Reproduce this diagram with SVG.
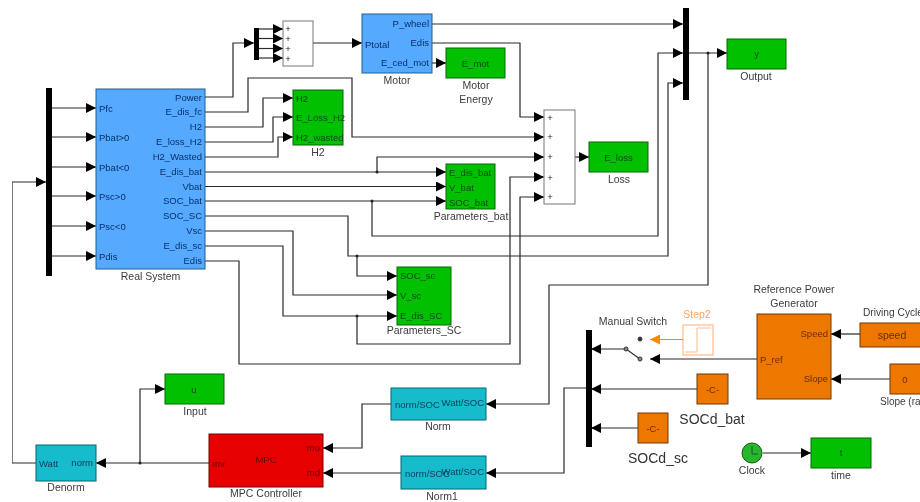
<svg xmlns="http://www.w3.org/2000/svg" width="920" height="502" viewBox="0 0 920 502">
<defs>
<marker id="a" markerUnits="userSpaceOnUse" markerWidth="11" markerHeight="10" refX="10" refY="5" orient="auto"><path d="M0 0L10 5L0 10Z" fill="#000"/></marker>
<marker id="o" markerUnits="userSpaceOnUse" markerWidth="11" markerHeight="10" refX="10" refY="5" orient="auto"><path d="M0 0L10 5L0 10Z" fill="#f80"/></marker>
<filter id="soft" x="0" y="0" width="100%" height="100%"><feGaussianBlur stdDeviation="0.35"/></filter>
</defs>
<style>
text{font-family:"Liberation Sans",Arial,sans-serif;font-size:9.5px;fill:#222}
.b{fill:#55aaff;stroke:#1f5f8f;stroke-width:1}
.g{fill:#00c000;stroke:#0a6a0a;stroke-width:1}
.c{fill:#12bccb;stroke:#0c6670;stroke-width:1}
.r{fill:#e60000;stroke:#7a0000;stroke-width:1}
.o{fill:#ee7700;stroke:#6e3600;stroke-width:1}
.s{fill:#fff;stroke:#777;stroke-width:1}
.bar{fill:#000}
.tb{fill:#08306a}
.tg{fill:#054a10}
.tc{fill:#063e5c}
.tr{fill:#6a0000}
.to{fill:#6a2c00}
.lab{font-size:10.5px;fill:#3c3c3c;text-anchor:middle}
.big{font-size:14px;fill:#333;text-anchor:middle}
.e{text-anchor:end}
.m{text-anchor:middle}
#wires polyline{fill:none;stroke:#2a2a2a;stroke-width:1.2;marker-end:url(#a)}
#wires circle{fill:#222}
</style>
<rect width="920" height="502" fill="#fff"/>
<g filter="url(#soft)">
<g id="wires">
<polyline points="52,108 96,108"/>
<polyline points="52,137 96,137"/>
<polyline points="52,167 96,167"/>
<polyline points="52,196 96,196"/>
<polyline points="52,226 96,226"/>
<polyline points="52,256 96,256"/>
<polyline points="96,463 12,463 12,182 46,182"/>
<polyline points="205,97 233,97 233,43 254,43"/>
<polyline points="259,29 283,29"/>
<polyline points="259,38.5 283,38.5"/>
<polyline points="259,48.5 283,48.5"/>
<polyline points="259,58 283,58"/>
<polyline points="313,43 362,43"/>
<polyline points="432,24 683,24"/>
<polyline points="432,43 520,43 520,117 544,117"/>
<polyline points="432,63 446,63"/>
<polyline points="205,112 248,112 248,78 352,78 352,137 544,137"/>
<polyline points="205,127 263,127 263,98 293,98"/>
<polyline points="205,142 273,142 273,117 293,117"/>
<polyline points="205,157 278,157 278,137 293,137"/>
<polyline points="205,172 446,172"/>
<polyline points="377,172 377,157 544,157"/>
<polyline points="205,186.500 446,186.500"/>
<polyline points="205,201 446,201"/>
<polyline points="372,201 372,236 658,236 658,53 683,53"/>
<polyline points="205,216 348,216 348,256 668,256 668,83 683,83"/>
<polyline points="357,256 357,276 397,276"/>
<polyline points="205,231 293,231 293,295 397,295"/>
<polyline points="205,246 283,246 283,316 397,316"/>
<polyline points="357,316 357,344 510,344 510,177 544,177"/>
<polyline points="205,261 239,261 239,364 520,364 520,197 544,197"/>
<polyline points="575,157 589,157"/>
<polyline points="689,53 727,53"/>
<polyline points="708,53 708,285 549,285 549,404 486,404"/>
<polyline points="391,404 362,404 362,448 323,448"/>
<polyline points="401,473 323,473"/>
<polyline points="209,463 96,463"/>
<polyline points="140,463 140,389 165,389"/>
<polyline points="586,388 564,388 564,473 486,473"/>
<polyline points="626,349 591,349"/>
<polyline points="757,359 650,359"/>
<polyline points="697,389 591,389"/>
<polyline points="638,428 591,428"/>
<polyline points="860,334 831,334"/>
<polyline points="890,379 831,379"/>
<polyline points="763,453 811,453"/>
<circle cx="140" cy="463" r="1.5"/><circle cx="377" cy="172" r="1.5"/><circle cx="372" cy="201" r="1.5"/><circle cx="357" cy="256" r="1.5"/><circle cx="357" cy="316" r="1.5"/><circle cx="708" cy="53" r="1.5"/>
</g>
<g id="demux"><rect class="bar" x="46" y="88" width="6" height="188"/></g>
<g id="real-system"><rect class="b" x="96" y="89" width="109" height="180"/>
<text class="tb" x="99" y="111.500">Pfc</text><text class="tb" x="99" y="141">Pbat&gt;0</text><text class="tb" x="99" y="171">Pbat&lt;0</text><text class="tb" x="99" y="200">Psc&gt;0</text><text class="tb" x="99" y="230">Psc&lt;0</text><text class="tb" x="99" y="260">Pdis</text>
<text class="tb e" x="202" y="100.500">Power</text><text class="tb e" x="202" y="115">E_dis_fc</text><text class="tb e" x="202" y="130">H2</text><text class="tb e" x="202" y="145">E_loss_H2</text><text class="tb e" x="202" y="160">H2_Wasted</text><text class="tb e" x="202" y="175">E_dis_bat</text><text class="tb e" x="202" y="189.500">Vbat</text><text class="tb e" x="202" y="204">SOC_bat</text><text class="tb e" x="202" y="219">SOC_SC</text><text class="tb e" x="202" y="234">Vsc</text><text class="tb e" x="202" y="249">E_dis_sc</text><text class="tb e" x="202" y="264">Edis</text>
<text class="lab" x="150.500" y="280">Real System</text></g>
<g id="mux-power"><rect class="bar" x="254" y="28" width="5" height="32"/></g>
<g id="sum-power"><rect class="s" x="283" y="21" width="30" height="45"/>
<text class="m" x="288" y="32">+</text><text class="m" x="288" y="42">+</text><text class="m" x="288" y="52">+</text><text class="m" x="288" y="62">+</text></g>
<g id="motor"><rect class="b" x="362" y="14" width="70" height="59"/>
<text class="tb" x="365" y="48">Ptotal</text><text class="tb e" x="429" y="27">P_wheel</text><text class="tb e" x="429" y="46">Edis</text><text class="tb e" x="429" y="66">E_ced_mot</text>
<text class="lab" x="397" y="84">Motor</text></g>
<g id="motor-energy"><rect class="g" x="446" y="48" width="59" height="30"/>
<text class="tg m" x="475.500" y="66.500">E_mot</text><text class="lab" x="476" y="89">Motor</text><text class="lab" x="476" y="103">Energy</text></g>
<g id="h2"><rect class="g" x="293" y="90" width="50" height="55"/>
<text class="tg" x="296" y="102">H2</text><text class="tg" x="296" y="121">E_Loss_H2</text><text class="tg" x="296" y="141">H2_wasted</text><text class="lab" x="318" y="156">H2</text></g>
<g id="parameters-bat"><rect class="g" x="446" y="164" width="49" height="45"/>
<text class="tg" x="449" y="176">E_dis_bat</text><text class="tg" x="449" y="191">V_bat</text><text class="tg" x="449" y="206">SOC_bat</text><text class="lab" x="471" y="220">Parameters_bat</text></g>
<g id="parameters-sc"><rect class="g" x="397" y="267" width="54" height="58"/>
<text class="tg" x="400" y="279">SOC_sc</text><text class="tg" x="400" y="299">V_sc</text><text class="tg" x="400" y="319">E_dis_SC</text><text class="lab" x="424" y="334">Parameters_SC</text></g>
<g id="sum-loss"><rect class="s" x="544" y="110" width="31" height="94"/>
<text class="m" x="550" y="121">+</text><text class="m" x="550" y="140">+</text><text class="m" x="550" y="160">+</text><text class="m" x="550" y="181">+</text><text class="m" x="550" y="200">+</text></g>
<g id="loss"><rect class="g" x="589" y="142" width="59" height="30"/>
<text class="tg m" x="618.500" y="160.500">E_loss</text><text class="lab" x="619" y="183">Loss</text></g>
<g id="mux-output"><rect class="bar" x="683" y="8" width="6" height="92"/></g>
<g id="output"><rect class="g" x="727" y="39" width="59" height="30"/>
<text class="tg m" x="756.500" y="57">y</text><text class="lab" x="756" y="80">Output</text></g>
<g id="denorm"><rect class="c" x="36" y="445" width="60" height="36"/>
<text class="tc" x="39" y="467">Watt</text><text class="tc e" x="93" y="466">norm</text><text class="lab" x="66" y="491">Denorm</text></g>
<g id="input"><rect class="g" x="165" y="374" width="59" height="30"/>
<text class="tg m" x="194" y="393">u</text><text class="lab" x="195" y="415">Input</text></g>
<g id="mpc"><rect class="r" x="209" y="434" width="114" height="53"/>
<text class="tr m" x="266" y="463">MPC</text><text class="tr" x="212" y="467">mv</text><text class="tr e" x="320" y="451">mo</text><text class="tr e" x="320" y="476">md</text><text class="lab" x="266" y="497">MPC Controller</text></g>
<g id="norm"><rect class="c" x="391" y="388" width="95" height="32"/>
<text class="tc" x="395" y="408">norm/SOC</text><text class="tc e" x="484" y="406">Watt/SOC</text><text class="lab" x="438" y="430">Norm</text></g>
<g id="norm1"><rect class="c" x="401" y="456" width="85" height="33"/>
<text class="tc" x="405" y="477">norm/SOC</text><text class="tc e" x="484" y="475">Watt/SOC</text><text class="lab" x="442" y="500">Norm1</text></g>
<g id="mux-soc"><rect class="bar" x="586" y="330" width="6" height="117"/></g>
<g id="manual-switch">
<path d="M626 349L640 359" fill="none" stroke="#333" stroke-width="1.2"/>
<circle cx="626" cy="349" r="2" fill="#888" stroke="#333"/><circle cx="640" cy="359" r="2" fill="#888" stroke="#333"/><circle cx="640" cy="339" r="2" fill="#333" stroke="#333"/>
<text class="lab" x="633" y="325">Manual Switch</text></g>
<g id="step2"><rect x="683" y="325" width="30" height="30" fill="#fff" stroke="#fb8" stroke-width="1.2"/>
<path d="M685 352H697V328H711" fill="none" stroke="#fb8"/>
<path d="M683 339.500H650" fill="none" stroke="#f80" stroke-width="1" marker-end="url(#o)"/>
<text class="lab" x="697" y="318" style="fill:#f9a860">Step2</text></g>
<g id="ref-power"><rect class="o" x="757" y="314" width="74" height="85"/>
<text class="to" x="760" y="363">P_ref</text><text class="to e" x="828" y="337">Speed</text><text class="to e" x="828" y="382">Slope</text>
<text class="lab" x="794" y="293">Reference Power</text><text class="lab" x="794" y="307">Generator</text></g>
<g id="driving-cycle"><rect class="o" x="860" y="323" width="70" height="24"/>
<text class="to m" x="892" y="339" style="font-size:10.5px">speed</text><text class="lab" x="863" y="316" style="text-anchor:start;font-size:10.2px">Driving Cycle</text></g>
<g id="slope"><rect class="o" x="890" y="364" width="40" height="30"/>
<text class="to m" x="905" y="383">0</text><text class="lab" x="880" y="405" style="text-anchor:start;font-size:10px">Slope (ra</text></g>
<g id="socd-bat"><rect class="o" x="697" y="374" width="31" height="30"/>
<text class="to m" x="712.500" y="393">-C-</text><text class="big" x="712" y="424">SOCd_bat</text></g>
<g id="socd-sc"><rect class="o" x="638" y="413" width="30" height="30"/>
<text class="to m" x="653" y="432">-C-</text><text class="big" x="658" y="463">SOCd_sc</text></g>
<g id="clock"><circle cx="752" cy="453" r="10" fill="#2ab52a" stroke="#0a5a14"/><path d="M752 446V454H758" fill="none" stroke="#063"/>
<text class="lab" x="752" y="474">Clock</text></g>
<g id="time"><rect class="g" x="811" y="438" width="60" height="30"/>
<text class="tg m" x="841" y="456">t</text><text class="lab" x="841" y="479">time</text></g>
</g>
</svg>
